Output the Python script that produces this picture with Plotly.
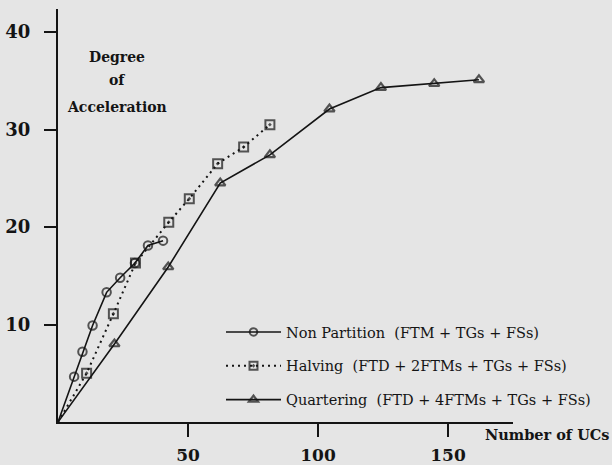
import plotly.graph_objects as go

# Data (Number of UCs vs Degree of Acceleration)
np_x = [0, 6.2, 9.4, 13.3, 18.7, 23.9, 29.6, 34.6, 40.4]
np_y = [0, 4.65, 7.2, 9.9, 13.3, 14.8, 16.3, 18.1, 18.6]

hv_x = [0, 11.0, 21.3, 29.8, 42.6, 50.5, 61.4, 71.4, 81.5]
hv_y = [0, 5.0, 11.1, 16.3, 20.5, 22.9, 26.5, 28.2, 30.5]

q_x = [0, 21.7, 42.4, 62.4, 81.5, 104.4, 124.2, 144.7, 161.9]
q_y = [0, 8.0, 15.9, 24.5, 27.4, 32.1, 34.3, 34.7, 35.1]

series_names = [
    "Non Partition\u00a0\u00a0(FTM + TGs + FSs)",
    "Halving\u00a0\u00a0(FTD + 2FTMs + TGs + FSs)",
    "Quartering\u00a0\u00a0(FTD + 4FTMs + TGs + FSs)",
]

x_ticks = [50, 100, 150]
y_ticks = [10, 20, 30, 40]

INK = "#141414"
BG = "#e5e5e5"
FONT = "DejaVu Serif"

L, R, T, B = 58, 99, 9, 43
PW, PH = 612 - L - R, 465 - T - B


def sizes(n, s):
    return [0] + [s] * (n - 1)


fig = go.Figure()
fig.add_trace(go.Scatter(
    x=np_x, y=np_y, mode="lines+markers", name=series_names[0], legendgroup="a",
    line=dict(color=INK, width=1.6),
    marker=dict(symbol="circle-open", size=sizes(len(np_x), 8.5), color=INK, line=dict(width=2, color=INK)),
))
fig.add_trace(go.Scatter(
    x=hv_x, y=hv_y, mode="lines+markers", name=series_names[1], legendgroup="b",
    line=dict(color=INK, width=2, dash="2px,4px"),
    marker=dict(symbol="square-open-dot", size=sizes(len(hv_x), 9), color=INK, line=dict(width=2, color=INK)),
))
fig.add_trace(go.Scatter(
    x=q_x, y=q_y, mode="lines+markers", name=series_names[2], legendgroup="c",
    line=dict(color=INK, width=1.6),
    marker=dict(symbol="triangle-up-open", size=sizes(len(q_x), 9), color=INK, line=dict(width=2.2, color=INK)),
))

fig.update_layout(
    width=612, height=465,
    margin=dict(l=L, r=R, t=T, b=B, autoexpand=False),
    paper_bgcolor=BG, plot_bgcolor=BG,
    font=dict(family=FONT, color=INK),
    showlegend=True,
    legend=dict(
        x=(221 - L) / PW, xanchor="left",
        y=(422 - 316) / PH, yanchor="top",
        bgcolor="rgba(0,0,0,0)", borderwidth=0,
        font=dict(family=FONT, size=14.5, color=INK),
        itemwidth=55, tracegroupgap=12,
    ),
    xaxis=dict(
        range=[0, 175], showgrid=False, zeroline=False,
        showline=True, linecolor=INK, linewidth=2,
        tickmode="array", tickvals=x_ticks, ticktext=["<b>%d</b>" % v for v in x_ticks],
        ticks="outside", ticklen=13, tickwidth=2, tickcolor=INK,
        tickfont=dict(family=FONT, size=17, color=INK),
        ticklabelstandoff=4,
    ),
    yaxis=dict(
        range=[0, 42.36], showgrid=False, zeroline=False,
        showline=True, linecolor=INK, linewidth=2,
        tickmode="array", tickvals=y_ticks, ticktext=["<b>%d</b>" % v for v in y_ticks],
        ticks="outside", ticklen=12, tickwidth=2, tickcolor=INK,
        tickfont=dict(family=FONT, size=18, color=INK),
        ticklabelstandoff=10,
    ),
)

for txt, ypx in [("Degree", 57), ("of", 80), ("Acceleration", 107)]:
    fig.add_annotation(
        text="<b>%s</b>" % txt, xref="paper", yref="paper",
        x=(117 - L) / PW, y=(422 - ypx) / PH,
        xanchor="center", yanchor="middle", showarrow=False,
        font=dict(family=FONT, size=14, color=INK),
    )

fig.add_annotation(
    text="<b>Number of UCs</b>", xref="paper", yref="paper",
    x=(483 - L) / PW, y=(422 - 434) / PH,
    xanchor="left", yanchor="middle", showarrow=False,
    font=dict(family=FONT, size=14.5, color=INK),
)

fig.write_html(
    "out.html",
    config={"displayModeBar": False},
    post_script="document.body.style.margin='0';",
)
